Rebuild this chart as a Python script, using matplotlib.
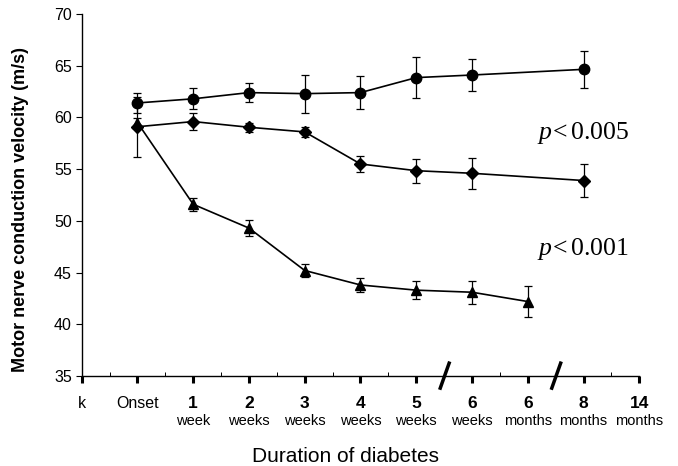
import matplotlib
matplotlib.use("Agg")
from matplotlib import pyplot as plt
import matplotlib.transforms as mtransforms

plt.rcParams['font.family'] = ['Liberation Sans', 'DejaVu Sans']
plt.rcParams['mathtext.fontset'] = 'custom'
plt.rcParams['mathtext.rm'] = 'Liberation Serif'
plt.rcParams['mathtext.it'] = 'Liberation Serif:italic'

# tick labels: number row and unit row
tick_num = ['k', 'Onset', '1', '2', '3', '4', '5', '6', '6', '8', '14']
tick_unit = ['', '', 'week', 'weeks', 'weeks', 'weeks', 'weeks', 'weeks',
             'months', 'months', 'months']
breaks = [6.5, 8.5]

# control (circles)
ctrl_x = [1, 2, 3, 4, 5, 6, 7, 9]
ctrl_y = [61.4, 61.8, 62.4, 62.3, 62.4, 63.85, 64.1, 64.65]
ctrl_e = [1.0, 1.0, 0.95, 1.85, 1.6, 2.0, 1.55, 1.8]

# diamonds
dia_x = [1, 2, 3, 4, 5, 6, 7, 9]
dia_y = [59.1, 59.6, 59.05, 58.6, 55.5, 54.85, 54.6, 53.9]
dia_e = [2.9, 0.85, 0.45, 0.45, 0.75, 1.15, 1.5, 1.6]

# triangles
tri_x = [1, 2, 3, 4, 5, 6, 7, 8]
tri_y = [59.5, 51.6, 49.3, 45.2, 43.8, 43.3, 43.1, 42.2]
tri_e = [0.45, 0.65, 0.75, 0.65, 0.65, 0.85, 1.1, 1.5]

fig = plt.figure(figsize=(6.78, 4.66), dpi=100)
ax = fig.add_axes([81.7/678, 1-376/466, (639.3-81.7)/678, (376-14)/466])

kw = dict(color='black', lw=1.2, elinewidth=0.9, capsize=3, capthick=0.9,
          clip_on=False)
ax.errorbar(tri_x, tri_y, yerr=tri_e, fmt='-^', ms=7.5, **kw)
ax.errorbar(dia_x, dia_y, yerr=dia_e, fmt='-D', ms=6.5, **kw)
ax.errorbar(ctrl_x, ctrl_y, yerr=ctrl_e, fmt='-o', ms=7.5, **kw)

ax.set_xlim(0, 10)
ax.set_ylim(35, 70)
ax.set_yticks(range(35, 71, 5))
ax.tick_params(axis='y', direction='out', length=4, width=0.8, labelsize=11.5, pad=3)
ax.spines['top'].set_visible(False)
ax.spines['right'].set_visible(False)
ax.spines['left'].set_linewidth(1.0)
ax.spines['bottom'].set_linewidth(1.0)

ax.set_xticks(range(len(tick_num)))
ax.set_xticklabels([])
ax.tick_params(axis='x', direction='out', length=5, width=2.2)
minor = [i + 0.5 for i in range(10) if i + 0.5 not in breaks]
ax.set_xticks(minor, minor=True)
ax.tick_params(axis='x', which='minor', direction='in', length=3, width=0.7)

trans = mtransforms.blended_transform_factory(ax.transData, ax.transAxes)
for i, (n, u) in enumerate(zip(tick_num, tick_unit)):
    bold = n.isdigit()
    ax.text(i, -0.075, n, transform=trans, ha='center', va='center',
            fontsize=12.5 if bold else 11.5, fontweight='bold' if bold else 'normal')
    if u:
        ax.text(i, -0.123, u, transform=trans, ha='center', va='center', fontsize=10.5)

# axis break marks
for b in breaks:
    ax.plot([b - 0.08, b + 0.1], [-0.038, 0.04], transform=trans, color='black',
            lw=2.5, clip_on=False, solid_capstyle='butt')

ax.set_ylabel('Motor nerve conduction velocity (m/s)', fontsize=13,
              fontweight='bold')
ax.yaxis.set_label_coords(-0.095, 0.46)
fig.text(345/678, 1-457/466, 'Duration of diabetes', ha='center', va='center',
         fontsize=15)

ax.text(8.17, 57.9, r'$p\!<0.005$', fontsize=18.5, va='baseline')
ax.text(8.17, 46.7, r'$p\!<0.001$', fontsize=18.5, va='baseline')

fig.savefig('out.png', dpi=100)
